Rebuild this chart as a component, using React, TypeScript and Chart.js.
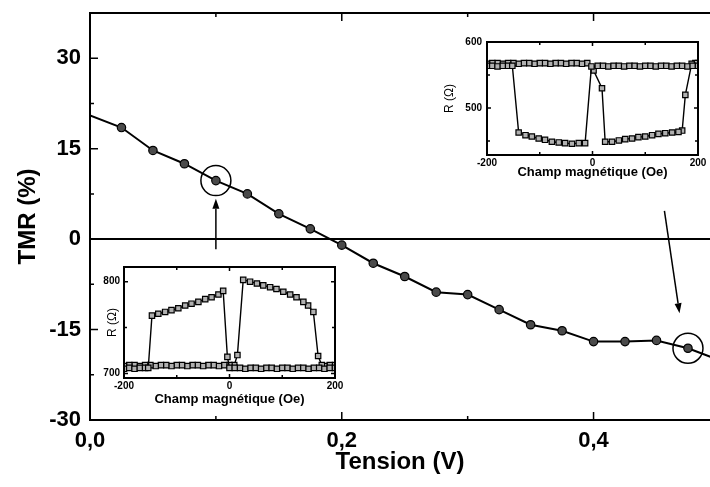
import React, { useEffect, useRef } from "react";
import { Chart, registerables } from "chart.js";
Chart.register(...registerables);

const FONT = '"Liberation Sans", Arial, Helvetica, sans-serif';

// ---------- main chart data ----------
const tension = [0, 0.025, 0.05, 0.075, 0.1, 0.125, 0.15, 0.175, 0.2, 0.225, 0.25, 0.275, 0.3, 0.325, 0.35, 0.375, 0.4, 0.425, 0.45, 0.475, 0.5];
const tmr = [20.5, 18.5, 14.7, 12.5, 9.7, 7.5, 4.2, 1.7, -1.0, -4.0, -6.2, -8.8, -9.2, -11.7, -14.2, -15.2, -17.0, -17.0, -16.8, -18.1, -20.1];
const markerShown = [false, true, true, true, true, true, true, true, true, true, true, true, true, true, true, true, true, true, true, true, false];
const xMin = 0;
const xMax = 0.4925;
const yMin = -30;
const yMax = 37.5;
const xLabelTicks = [0, 0.2, 0.4];
const xMinorTicks = [0.1, 0.3];
const yLabelTicks = [-30, -15, 0, 15, 30];
const yMinorTicks = [-22.5, -7.5, 7.5, 22.5];
const zeroLevel = 0;
const circledV = [0.1, 0.475];
const circledTMR = [9.7, -18.1];
const arrowFromV = [0.1, 0.4563];
const arrowFromTMR = [-1.7, 4.7];
const arrowToV = [0.1, 0.4683];
const arrowToTMR = [6.7, -12.3];

// ---------- inset 1 (bottom left) ----------
const in1UpH = [-200, -190, -180, -170, -160, -154, -147, -135, -122, -110, -97, -84, -72, -59, -46, -34, -21, -12, -4, 0, 10, 20, 30, 40, 50, 60, 70, 80, 90, 100, 110, 120, 130, 140, 150, 160, 170, 180, 190, 200];
const in1UpR = [705, 706, 705, 706, 706, 706, 763, 765, 767, 769, 771, 774, 776, 778, 781, 783, 786, 790, 718, 706, 706, 706, 705, 706, 706, 705, 706, 706, 705, 706, 706, 705, 706, 706, 705, 706, 706, 705, 706, 706];
const in1DownH = [200, 190, 180, 175, 168, 159, 149, 140, 127, 115, 102, 89, 77, 64, 52, 39, 26, 15, 9, 0, -10, -20, -30, -40, -50, -60, -70, -80, -90, -100, -110, -120, -130, -140, -150, -160, -170, -180, -190, -200];
const in1DownR = [709, 709, 708, 709, 719, 767, 774, 778, 783, 786, 789, 792, 794, 796, 798, 800, 802, 720, 709, 709, 709, 708, 709, 709, 708, 709, 709, 708, 709, 709, 708, 709, 709, 708, 709, 709, 708, 709, 709, 708];
const in1YMin = 695;
const in1YMax = 816;
const in1YLabels = [700, 800];
const in1YMinor = [750];

// ---------- inset 2 (top right) ----------
const in2UpH = [-200, -190, -180, -170, -160, -152, -140, -127, -115, -102, -90, -77, -64, -52, -39, -26, -14, -2, 10, 20, 30, 40, 50, 60, 70, 80, 90, 100, 110, 120, 130, 140, 150, 160, 170, 180, 190, 200];
const in2UpR = [564, 564, 563, 564, 564, 564, 463, 459, 457, 454, 452, 449, 448, 447, 446, 447, 447, 563, 564, 564, 563, 564, 564, 563, 564, 564, 563, 564, 564, 563, 564, 564, 563, 564, 564, 563, 564, 564];
const in2DownH = [200, 195, 188, 176, 170, 163, 151, 138, 125, 113, 100, 87, 75, 62, 50, 37, 24, 18, 2, -10, -20, -30, -40, -50, -60, -70, -80, -90, -100, -110, -120, -130, -140, -150, -160, -170, -180, -190, -200];
const in2DownR = [568, 568, 567, 520, 466, 464, 463, 462, 461, 459, 457, 456, 454, 453, 451, 449, 449, 530, 557, 568, 567, 568, 568, 567, 568, 568, 567, 568, 568, 567, 568, 568, 567, 568, 568, 567, 568, 568, 567];
const in2YMin = 429;
const in2YMax = 600;
const in2YLabels = [500, 600];
const in2YMinor = [450, 550];

// shared inset x axis
const inXMin = -200;
const inXMax = 200;
const inXLabels = [-200, 0, 200];
const inXMinor = [-100, 100];

type Sides = { top: boolean; bottom: boolean; left: boolean; right: boolean };
type FrameOpts = {
  xMajor: number[]; xMinor: number[]; yMajor: number[]; yMinor: number[];
  sides: Sides; major: number; minor: number; width: number; tickWidth: number;
};

function framePlugin(o: FrameOpts) {
  return {
    id: "frameTicks",
    afterDatasetsDraw(chart: any) {
      const { ctx, chartArea: a, scales } = chart;
      const xs = scales.x;
      const ys = scales.y;
      ctx.save();
      ctx.strokeStyle = "#000";
      ctx.lineWidth = o.width;
      ctx.lineCap = "square";
      ctx.beginPath();
      if (o.sides.top) { ctx.moveTo(a.left, a.top); ctx.lineTo(a.right, a.top); }
      if (o.sides.bottom) { ctx.moveTo(a.left, a.bottom); ctx.lineTo(a.right, a.bottom); }
      if (o.sides.left) { ctx.moveTo(a.left, a.top); ctx.lineTo(a.left, a.bottom); }
      if (o.sides.right) { ctx.moveTo(a.right, a.top); ctx.lineTo(a.right, a.bottom); }
      ctx.stroke();
      ctx.lineCap = "butt";
      ctx.lineWidth = o.tickWidth;
      ctx.beginPath();
      const xt = (vals: number[], len: number) => {
        vals.forEach((v) => {
          const px = xs.getPixelForValue(v);
          if (o.sides.bottom) { ctx.moveTo(px, a.bottom); ctx.lineTo(px, a.bottom - len); }
          if (o.sides.top) { ctx.moveTo(px, a.top); ctx.lineTo(px, a.top + len); }
        });
      };
      const yt = (vals: number[], len: number) => {
        vals.forEach((v) => {
          const py = ys.getPixelForValue(v);
          if (o.sides.left) { ctx.moveTo(a.left, py); ctx.lineTo(a.left + len, py); }
          if (o.sides.right) { ctx.moveTo(a.right, py); ctx.lineTo(a.right - len, py); }
        });
      };
      xt(o.xMajor, o.major);
      xt(o.xMinor, o.minor);
      yt(o.yMajor, o.major);
      yt(o.yMinor, o.minor);
      ctx.stroke();
      ctx.restore();
    },
  };
}

const arrowPlugin = {
  id: "arrows",
  afterDatasetsDraw(chart: any) {
    const { ctx, scales } = chart;
    const xs = scales.x;
    const ys = scales.y;
    ctx.save();
    ctx.strokeStyle = "#000";
    ctx.fillStyle = "#000";
    ctx.lineWidth = 1.5;
    for (let i = 0; i < arrowFromV.length; i++) {
      const x1 = xs.getPixelForValue(arrowFromV[i]);
      const y1 = ys.getPixelForValue(arrowFromTMR[i]);
      const x2 = xs.getPixelForValue(arrowToV[i]);
      const y2 = ys.getPixelForValue(arrowToTMR[i]);
      const ang = Math.atan2(y2 - y1, x2 - x1);
      const L = 10;
      const W = 3.5;
      const bx = x2 - L * Math.cos(ang);
      const by = y2 - L * Math.sin(ang);
      ctx.beginPath();
      ctx.moveTo(x1, y1);
      ctx.lineTo(bx, by);
      ctx.stroke();
      ctx.beginPath();
      ctx.moveTo(x2, y2);
      ctx.lineTo(bx + W * Math.sin(ang), by - W * Math.cos(ang));
      ctx.lineTo(bx - W * Math.sin(ang), by + W * Math.cos(ang));
      ctx.closePath();
      ctx.fill();
    }
    ctx.restore();
  },
};

function pts(xs: number[], ys: number[]) {
  return xs.map((x, i) => ({ x, y: ys[i] }));
}

function zeroPad(s: any) {
  s.paddingLeft = 0;
  s.paddingRight = 0;
  s.paddingTop = 0;
  s.paddingBottom = 0;
}

function mainConfig(): any {
  return {
    type: "line",
    data: {
      datasets: [
        {
          data: [{ x: xMin, y: zeroLevel }, { x: xMax, y: zeroLevel }],
          borderColor: "#000",
          borderWidth: 2,
          pointRadius: 0,
        },
        {
          data: pts(tension, tmr),
          borderColor: "#000",
          borderWidth: 2,
          pointRadius: markerShown.map((m) => (m ? 4.2 : 0)),
          pointBackgroundColor: "#4a4a4a",
          pointBorderColor: "#000",
          pointBorderWidth: 1.2,
        },
        {
          data: pts(circledV, circledTMR),
          showLine: false,
          pointRadius: 15,
          pointBackgroundColor: "rgba(0,0,0,0)",
          pointBorderColor: "#000",
          pointBorderWidth: 1.5,
        },
      ],
    },
    options: {
      responsive: false,
      animation: false,
      devicePixelRatio: 1,
      layout: { autoPadding: false, padding: { top: 13, right: 0, left: 0, bottom: 0 } },
      plugins: { legend: { display: false }, tooltip: { enabled: false } },
      scales: {
        x: {
          type: "linear",
          min: xMin,
          max: xMax,
          afterBuildTicks: (s: any) => { s.ticks = xLabelTicks.map((v) => ({ value: v })); },
          afterFit: (s: any) => { s.height = 67; zeroPad(s); },
          grid: { display: false, drawTicks: false },
          border: { display: false },
          ticks: {
            color: "#000",
            padding: 8,
            autoSkip: false,
            maxRotation: 0,
            font: { family: FONT, size: 22, weight: "bold" },
            callback: (v: any) => Number(v).toFixed(1).replace(".", ","),
          },
          title: {
            display: true,
            text: "Tension (V)",
            color: "#000",
            font: { family: FONT, size: 24, weight: "bold" },
            padding: { top: 0, bottom: 10 },
          },
        },
        y: {
          type: "linear",
          min: yMin,
          max: yMax,
          afterBuildTicks: (s: any) => { s.ticks = yLabelTicks.map((v) => ({ value: v })); },
          afterFit: (s: any) => { s.width = 90; zeroPad(s); },
          grid: { display: false, drawTicks: false },
          border: { display: false },
          ticks: {
            color: "#000",
            padding: 9,
            autoSkip: false,
            font: { family: FONT, size: 22, weight: "bold" },
            callback: (v: any) => String(v),
          },
          title: {
            display: true,
            text: "TMR (%)",
            color: "#000",
            font: { family: FONT, size: 24, weight: "bold" },
            padding: { top: 14, bottom: 0 },
          },
        },
      },
    },
    plugins: [
      framePlugin({
        xMajor: xLabelTicks, xMinor: xMinorTicks, yMajor: yLabelTicks, yMinor: yMinorTicks,
        sides: { top: true, bottom: true, left: true, right: false },
        major: 8, minor: 4, width: 2, tickWidth: 1.5,
      }),
      arrowPlugin,
    ],
  };
}

function insetConfig(
  up: { x: number; y: number }[],
  down: { x: number; y: number }[],
  yMinV: number, yMaxV: number, yLabels: number[], yMinor: number[],
  lay: { top: number; right: number; xh: number; yw: number; yTitlePad: number; yTickPad: number }
): any {
  const ds = (data: any) => ({
    data,
    borderColor: "#000",
    borderWidth: 1.4,
    pointStyle: "rect",
    pointRadius: 3.8,
    pointBackgroundColor: "#b0b0b0",
    pointBorderColor: "#000",
    pointBorderWidth: 1.2,
  });
  return {
    type: "line",
    data: { datasets: [ds(up), ds(down)] },
    options: {
      responsive: false,
      animation: false,
      devicePixelRatio: 1,
      layout: { autoPadding: false, padding: { top: lay.top, right: lay.right, left: 0, bottom: 0 } },
      plugins: { legend: { display: false }, tooltip: { enabled: false } },
      scales: {
        x: {
          type: "linear",
          min: inXMin,
          max: inXMax,
          afterBuildTicks: (s: any) => { s.ticks = inXLabels.map((v) => ({ value: v })); },
          afterFit: (s: any) => { s.height = lay.xh; zeroPad(s); },
          grid: { display: false, drawTicks: false },
          border: { display: false },
          ticks: {
            color: "#000",
            padding: 2,
            autoSkip: false,
            maxRotation: 0,
            font: { family: FONT, size: 10, weight: "bold" },
            callback: (v: any) => String(v),
          },
          title: {
            display: true,
            text: "Champ magnétique (Oe)",
            color: "#000",
            font: { family: FONT, size: 13, weight: "bold" },
            padding: { top: 0, bottom: 5 },
          },
        },
        y: {
          type: "linear",
          min: yMinV,
          max: yMaxV,
          afterBuildTicks: (s: any) => { s.ticks = yLabels.map((v) => ({ value: v })); },
          afterFit: (s: any) => { s.width = lay.yw; zeroPad(s); },
          grid: { display: false, drawTicks: false },
          border: { display: false },
          ticks: {
            color: "#000",
            padding: lay.yTickPad,
            autoSkip: false,
            font: { family: FONT, size: 10, weight: "bold" },
            callback: (v: any) => String(v),
          },
          title: {
            display: true,
            text: "R (Ω)",
            color: "#000",
            font: { family: FONT, size: 12, weight: "normal" },
            padding: { top: lay.yTitlePad, bottom: 0 },
          },
        },
      },
    },
    plugins: [
      framePlugin({
        xMajor: inXLabels, xMinor: inXMinor, yMajor: yLabels, yMinor: yMinor,
        sides: { top: true, bottom: true, left: true, right: true },
        major: 4, minor: 3, width: 2, tickWidth: 1.5,
      }),
    ],
  };
}

export default function App() {
  const mainRef = useRef<HTMLCanvasElement>(null);
  const in1Ref = useRef<HTMLCanvasElement>(null);
  const in2Ref = useRef<HTMLCanvasElement>(null);

  useEffect(() => {
    const charts: Chart[] = [];
    charts.push(new Chart(mainRef.current as HTMLCanvasElement, mainConfig()));
    charts.push(
      new Chart(
        in1Ref.current as HTMLCanvasElement,
        insetConfig(pts(in1UpH, in1UpR), pts(in1DownH, in1DownR), in1YMin, in1YMax, in1YLabels, in1YMinor, {
          top: 10, right: 12, xh: 34, yw: 29, yTitlePad: 10, yTickPad: 4,
        })
      )
    );
    charts.push(
      new Chart(
        in2Ref.current as HTMLCanvasElement,
        insetConfig(pts(in2UpH, in2UpR), pts(in2DownH, in2DownR), in2YMin, in2YMax, in2YLabels, in2YMinor, {
          top: 12, right: 12, xh: 30, yw: 47, yTitlePad: 2, yTickPad: 5,
        })
      )
    );
    return () => charts.forEach((c) => c.destroy());
  }, []);

  return (
    <div style={{ position: "absolute", left: 0, top: 0, width: 710, height: 487, background: "#fff", overflow: "hidden" }}>
      <canvas ref={mainRef} width={710} height={487} style={{ position: "absolute", left: 0, top: 0 }} />
      <canvas ref={in1Ref} width={252} height={155} style={{ position: "absolute", left: 95, top: 257 }} />
      <canvas ref={in2Ref} width={270} height={155} style={{ position: "absolute", left: 440, top: 30 }} />
    </div>
  );
}
